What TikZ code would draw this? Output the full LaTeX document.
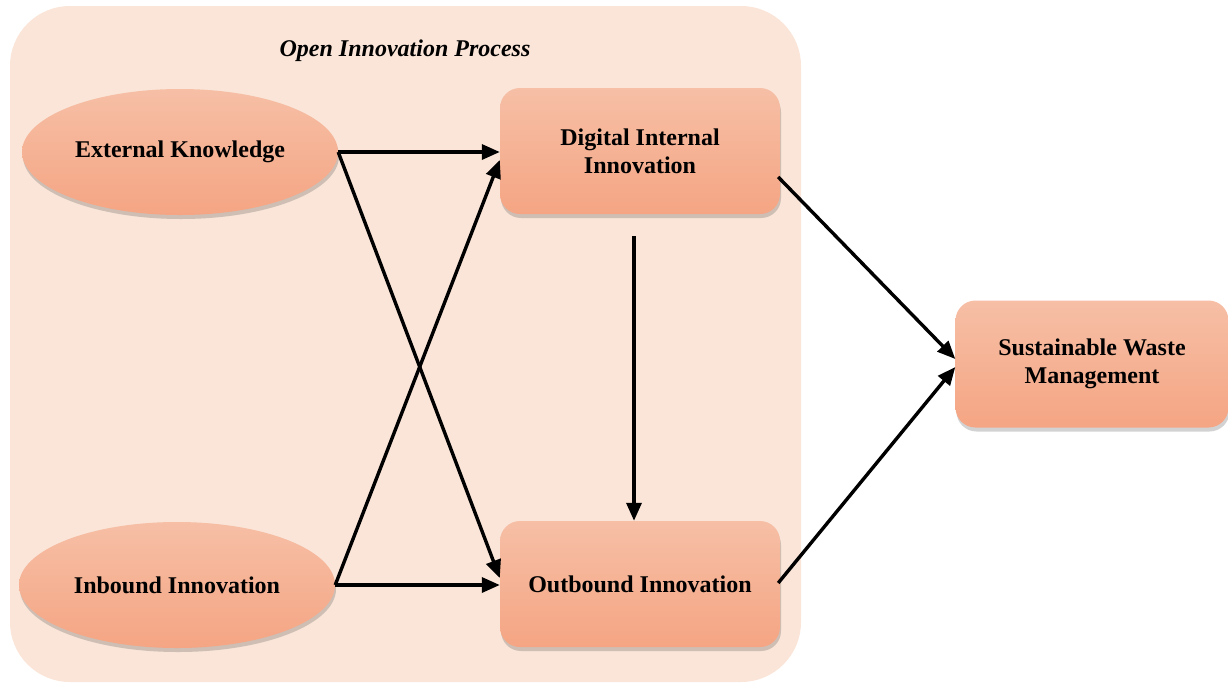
\documentclass[tikz,border=0pt]{standalone}
\usepackage{fontspec}
\setmainfont{Liberation Serif}
\usetikzlibrary{shapes.geometric,arrows.meta,shadows,calc}
\definecolor{panelbg}{RGB}{250,229,216}
\definecolor{salmontop}{RGB}{246,191,166}
\definecolor{salmonbot}{RGB}{245,165,131}
\tikzset{
  construct/.style={top color=salmontop, bottom color=salmonbot, draw=none,
    drop shadow={shadow xshift=1pt, shadow yshift=-4pt, opacity=0.25, fill=black!70},
    font=\fontsize{24}{28}\selectfont\bfseries, align=center, inner sep=0pt},
  oval/.style={construct, ellipse, minimum width=316pt, minimum height=126pt},
  panel/.style={construct, rectangle, rounded corners=20pt, minimum width=280pt, minimum height=126pt},
  link/.style={line width=3.4pt, -{Triangle[length=18pt,width=15pt]}}
}
\begin{document}
\begin{tikzpicture}[x=1pt,y=-1pt]
\useasboundingbox (0,0) rectangle (1228,683);
% process frame
\fill[panelbg, rounded corners=60pt] (10,6) rectangle (801,682);
\node[font=\fontsize{24}{28}\selectfont\bfseries\itshape] (title) at (405,51) {Open Innovation Process};
% constructs
\node[oval] (ek) at (180,152) {External Knowledge};
\node[oval] (ib) at (177,585) {Inbound Innovation};
\node[panel] (di) at (640,151) {Digital Internal\\Innovation};
\node[panel] (oi) at (640,584) {Outbound Innovation};
\node[panel, minimum width=273pt, minimum height=127pt] (sw) at (1092,364) {Sustainable Waste\\Management};
% paths
\draw[link] (ek.east) -- (di.west |- ek.east);
\draw[link] (ek.east) -- ($(oi.west)+(0,-6)$);
\draw[link] (ib.east) -- ($(di.west)+(0,9)$);
\draw[link] (ib.east) -- (oi.west |- ib.east);
\draw[link] ($(di.south)+(-6,22)$) -- ($(oi.north)+(-6,0)$);
\draw[link] ($(di.east)+(-2,26)$) -- ($(sw.west)+(0,-5)$);
\draw[link] ($(oi.east)+(-2,-1)$) -- ($(sw.west)+(0,3)$);
\end{tikzpicture}
\end{document}
